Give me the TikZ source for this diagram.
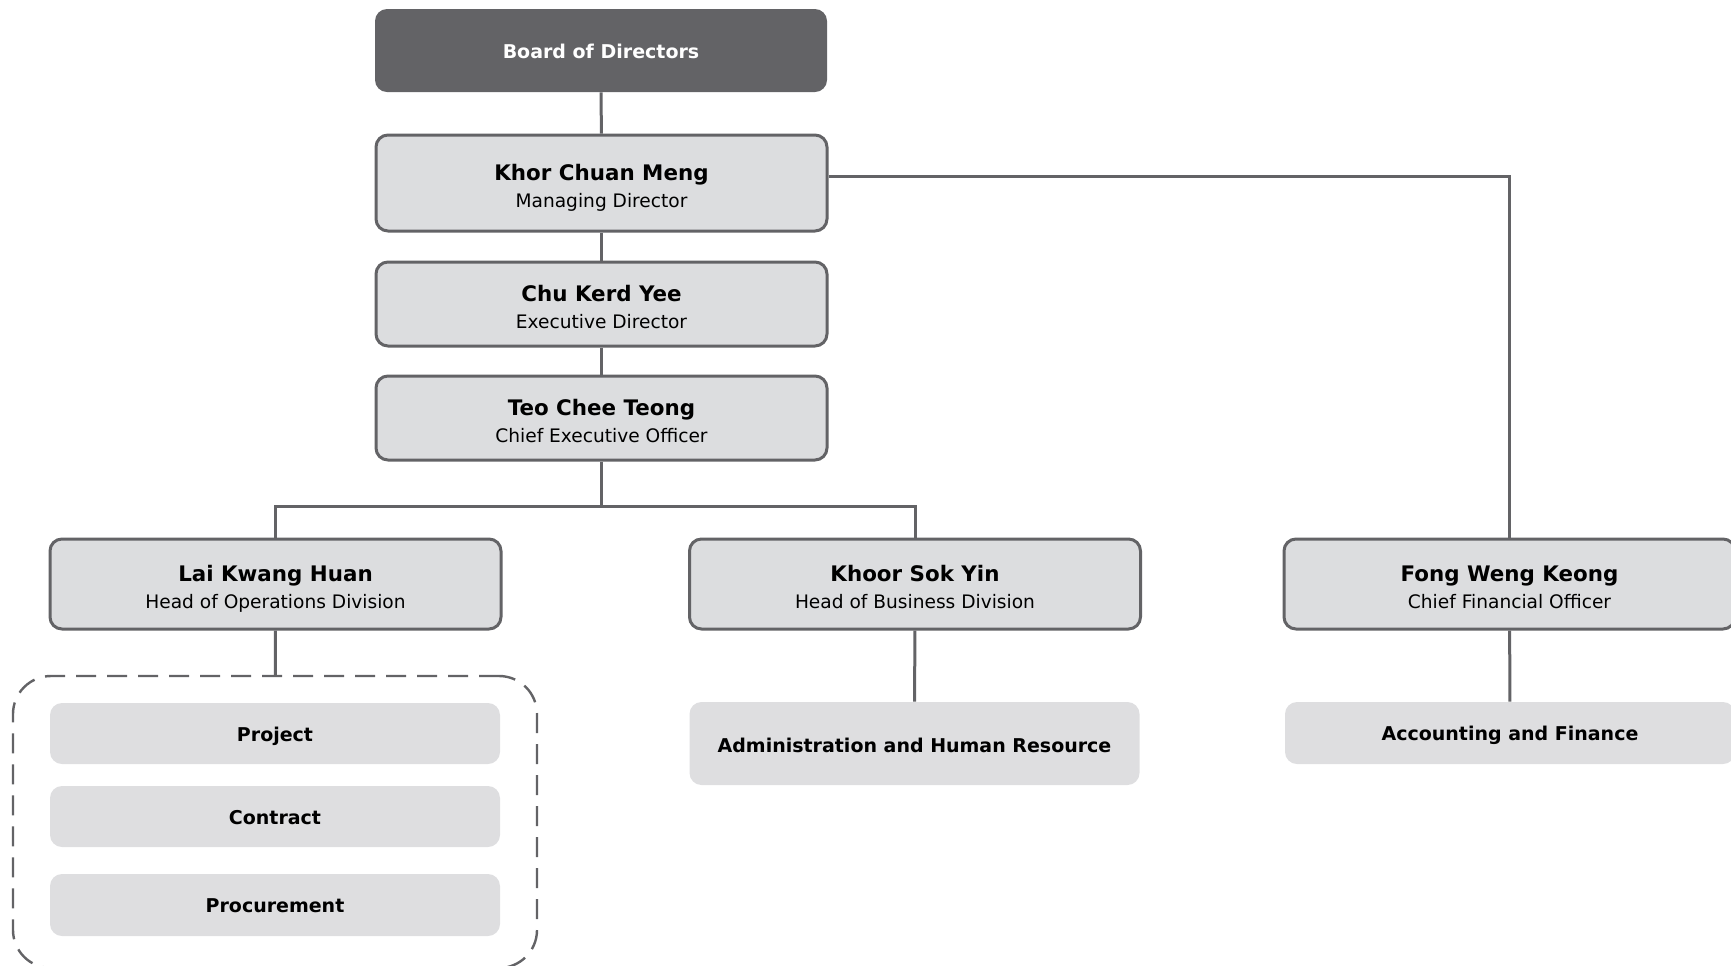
\documentclass[tikz,border=0pt]{standalone}
\usepackage{fontspec}
\setmainfont{DejaVu Sans}
\definecolor{linegray}{HTML}{636366}
\definecolor{boxfill}{HTML}{DCDDDF}
\definecolor{subfill}{HTML}{DEDEE0}
\begin{document}
\begin{tikzpicture}[x=0.5pt,y=-0.5pt,
  person/.style={draw=linegray, line width=1.5pt, fill=boxfill, rounded corners=6pt,
    minimum width=225.5pt, align=center, inner sep=0pt, font=\fontsize{9.3}{13.5}\selectfont},
  unit/.style={fill=subfill, rounded corners=6pt, minimum width=225pt, align=center,
    inner sep=0pt, font=\fontsize{9.5}{11.5}\selectfont\bfseries},
  board/.style={fill=linegray, rounded corners=6pt, minimum width=226pt, minimum height=41.5pt,
    inner sep=0pt, text=white, font=\fontsize{9.5}{11.5}\selectfont\bfseries},
  link/.style={draw=linegray, line width=1.5pt},
  group/.style={draw=linegray, line width=1.2pt, dash pattern=on 10pt off 5.5pt, rounded corners=19pt,
    minimum width=262pt, minimum height=146pt, inner sep=0pt}]
\useasboundingbox (0,0) rectangle (1731,965);
\newcommand{\nm}[1]{{\fontsize{10.7}{13.5}\selectfont\bfseries\rule[-4.05pt]{0pt}{18.6pt}#1}}
\newcommand{\rl}[1]{\strut #1}
\newcommand{\us}[2][3.3pt]{\rule[-3.45pt]{0pt}{\dimexpr11.5pt+#1\relax}#2}
\node[board] (bod) at (601,50.5) {\us{Board of Directors}};
\node[person, minimum height=48pt] (kcm) at (601.5,183) {\nm{Khor Chuan Meng}\\\rl{Managing Director}};
\node[person, minimum height=42pt] (cky) at (601.5,304) {\nm{Chu Kerd Yee}\\\rl{Executive Director}};
\node[person, minimum height=42pt] (tct) at (601.5,418) {\nm{Teo Chee Teong}\\\rl{Chief Executive Officer}};
\node[person, minimum height=45pt] (lai) at (275.5,584) {\nm{Lai Kwang Huan}\\\rl{Head of Operations Division}};
\node[person, minimum height=45pt] (ksy) at (915,584) {\nm{Khoor Sok Yin}\\\rl{Head of Business Division}};
\node[person, minimum height=45pt] (fwk) at (1509.5,584) {\nm{Fong Weng Keong}\\\rl{Chief Financial Officer}};
\node[group] (ops) at (275,822) {};
\node[unit, minimum height=30.5pt] (proj) at (275,733.5) {\us{Project}};
\node[unit, minimum height=30.5pt] (cont) at (275,816.5) {\us{Contract}};
\node[unit, minimum height=31pt] (proc) at (275,905) {\us{Procurement}};
\node[unit, minimum height=41.5pt] (adm) at (914.5,743.5) {\us[4.4pt]{Administration and Human Resource}};
\node[unit, minimum height=31pt] (acc) at (1510,733) {\us{Accounting and Finance}};
\coordinate (split) at (601.5,506);
\draw[link] (bod) -- (kcm);
\draw[link] (kcm) -- (cky);
\draw[link] (cky) -- (tct);
\draw[link] (tct) -- (split);
\draw[link] (lai.north) |- (split) -| (ksy.north);
\draw[link] ([yshift=3.5pt]kcm.east) -| (fwk.north);
\draw[link] (lai) -- (ops);
\draw[link] (ksy) -- (adm);
\draw[link] (fwk) -- (acc);
\end{tikzpicture}
\end{document}
